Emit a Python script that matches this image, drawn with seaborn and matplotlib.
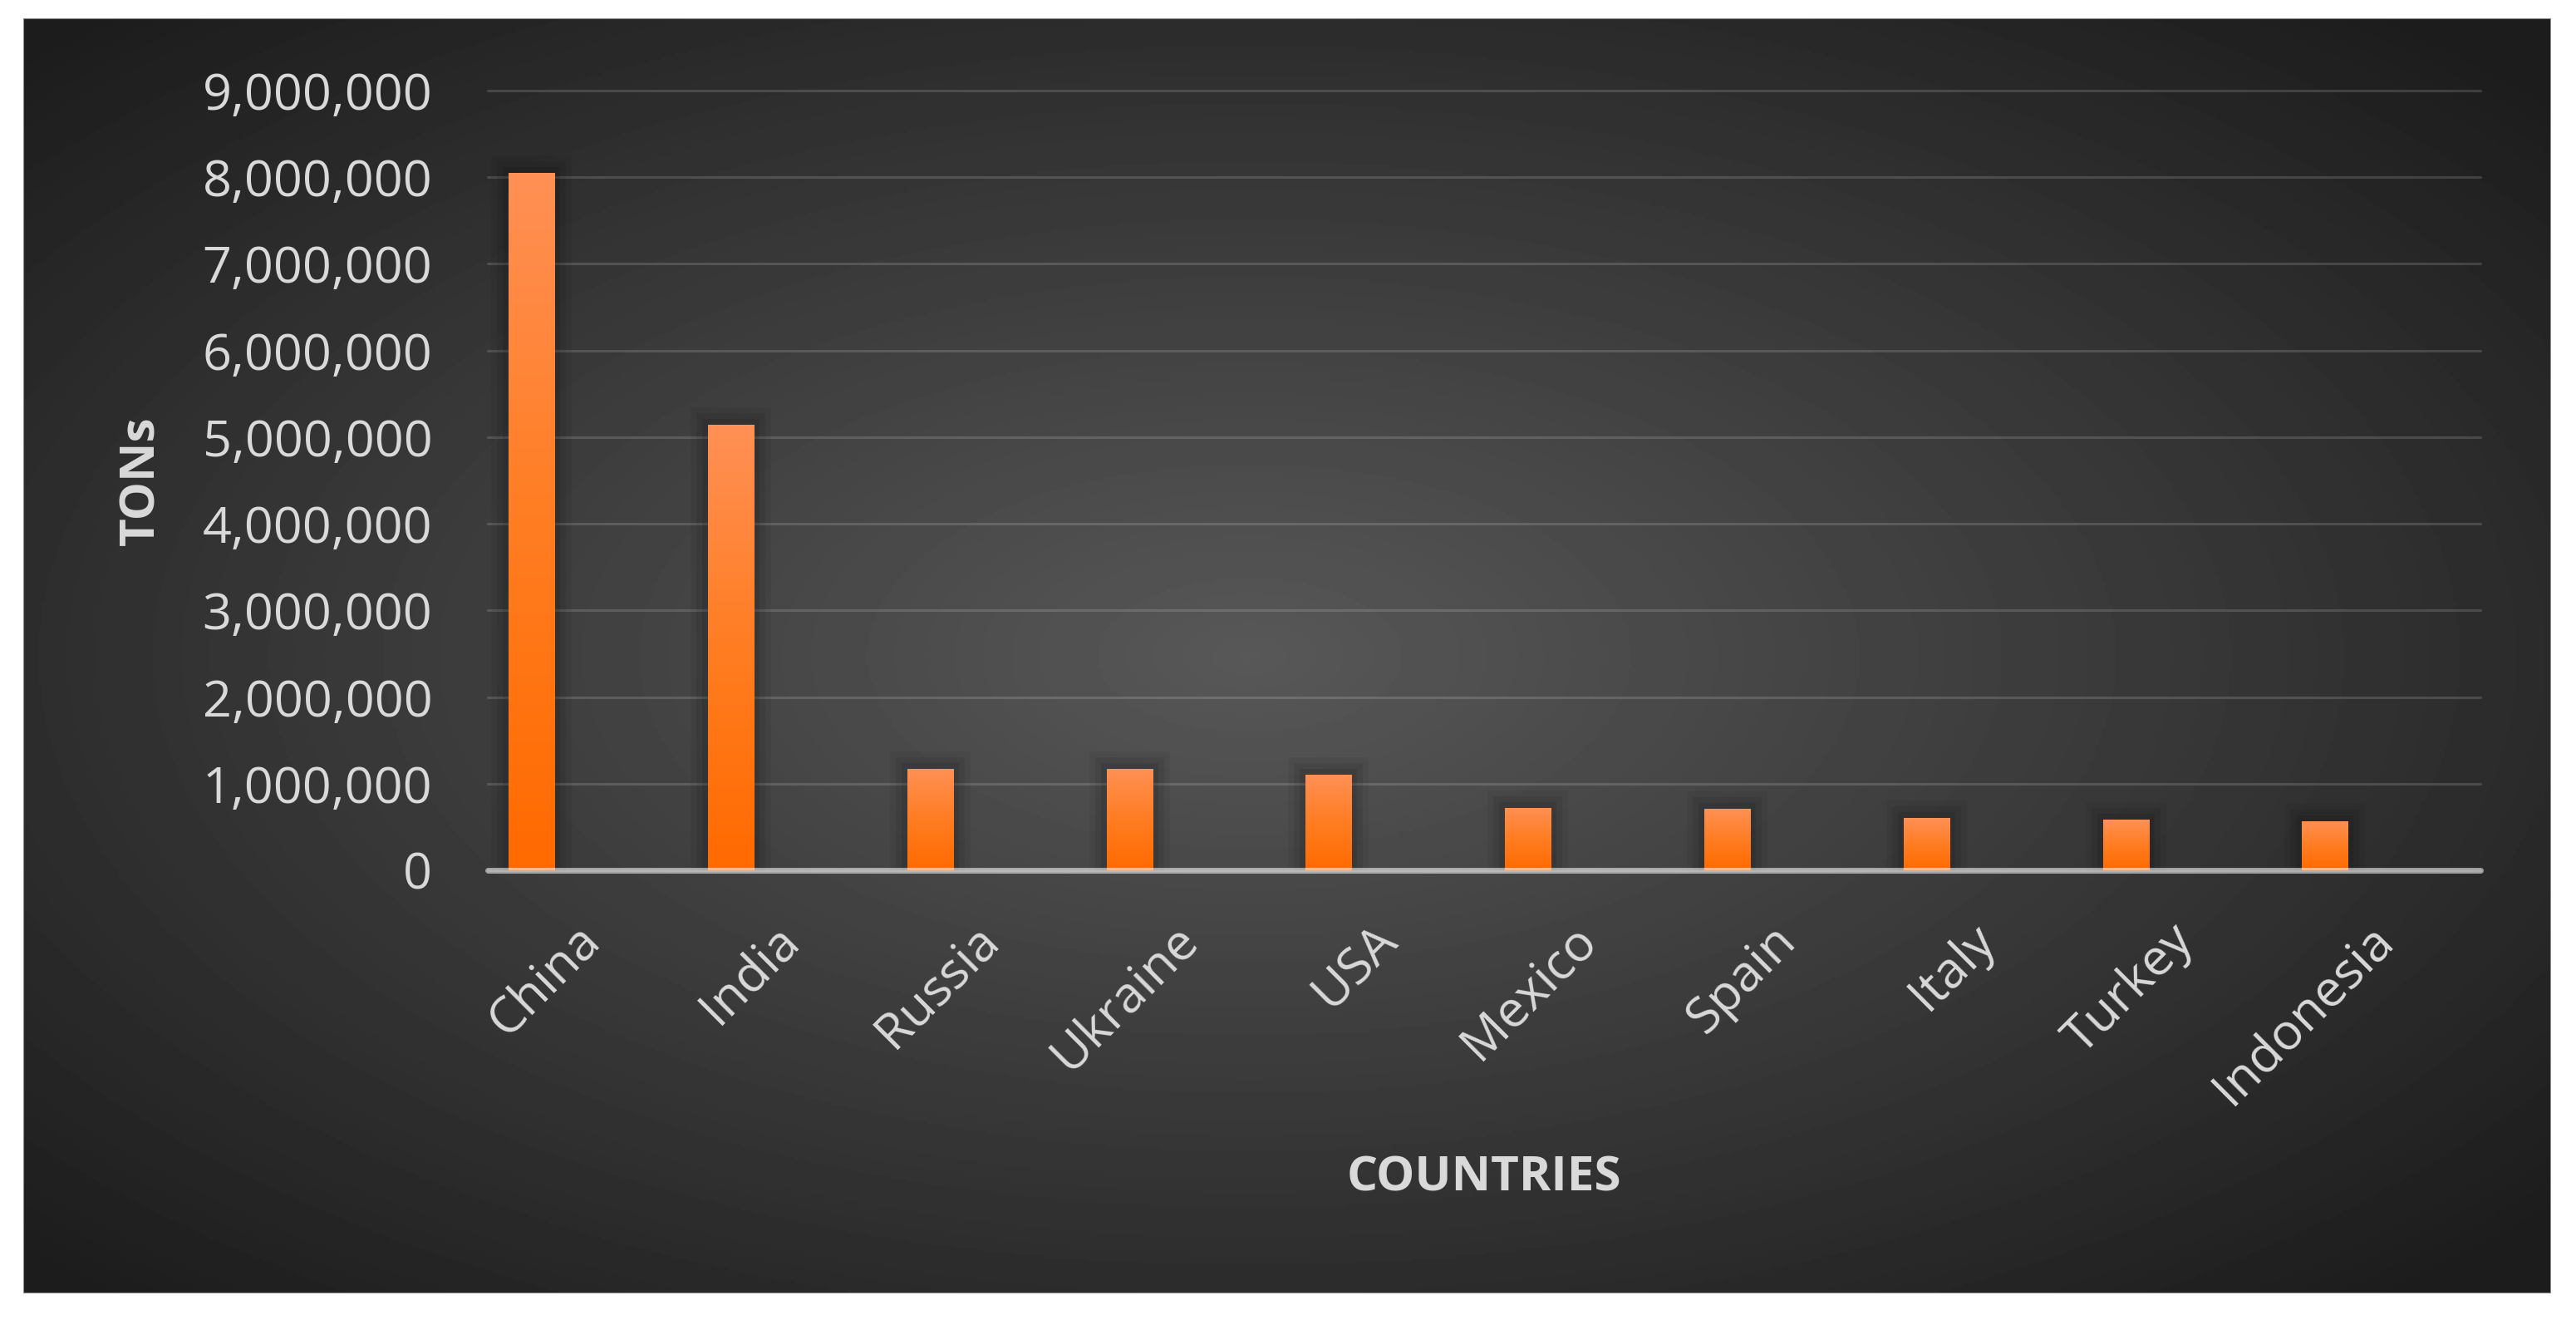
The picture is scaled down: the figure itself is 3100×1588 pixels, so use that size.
import numpy as np
import pandas as pd
import seaborn as sns
import matplotlib.pyplot as plt
import matplotlib.transforms as mtransforms
from matplotlib import patheffects as pe
from matplotlib.colors import LinearSegmentedColormap
from matplotlib.patches import Rectangle
from matplotlib.ticker import FuncFormatter, FixedLocator

# data
countries = ["China", "India", "Russia", "Ukraine", "USA",
             "Mexico", "Spain", "Italy", "Turkey", "Indonesia"]
tons = [8050000, 5140000, 1170000, 1170000, 1100000,
        720000, 710000, 600000, 585000, 570000]
y_ticks = [0, 1000000, 2000000, 3000000, 4000000,
           5000000, 6000000, 7000000, 8000000, 9000000]

sns.set_theme(style="dark")
plt.rcParams["font.family"] = ["Open Sans", "DejaVu Sans"]

TEXT = "#d9d9d9"
W, H = 3100, 1588
fig = plt.figure(figsize=(W / 100, H / 100), dpi=100)
fig.patch.set_facecolor("white")

# dark panel with radial gradient
bg = fig.add_axes([28 / W, 1 - 1556 / H, (3070 - 28) / W, (1556 - 22) / H])
yy, xx = np.mgrid[0:1:400j, 0:1:800j]
r = np.sqrt(((xx - 0.485) / 0.5) ** 2 + ((yy - 0.50) / 0.5) ** 2)
shade = np.clip(88 - 44 * r, 28, 90) / 255
bg.imshow(shade, cmap="gray", vmin=0, vmax=1, aspect="auto", extent=(0, 1, 0, 1))
bg.set_axis_off()
bg.add_patch(Rectangle((0, 0), 1, 1, transform=bg.transAxes, fill=False,
                       ec="#8c8c8c", lw=1.5))

# plot area
ax = fig.add_axes([587 / W, 1 - 1047 / H, (2985 - 587) / W, (1047 - 109) / H])
ax.set_facecolor("none")

# excel-style clustered layout: real series on the left, empty series on the right
df = pd.DataFrame({
    "country": countries * 2,
    "tons": tons + [0] * len(countries),
    "series": ["TONs"] * len(countries) + ["blank"] * len(countries),
})
sns.barplot(data=df, x="country", y="tons", hue="series", hue_order=["TONs", "blank"],
            palette=["#ff7a20", "#ff7a20"], width=1.12, gap=0.59, errorbar=None,
            legend=False, linewidth=0, ax=ax, zorder=3)

cmap = LinearSegmentedColormap.from_list("bar", ["#ff6a00", "#ff7d22", "#ff9055"])
grad = np.linspace(0, 1, 256).reshape(-1, 1)
shadow = [pe.Stroke(linewidth=30, foreground="black", alpha=0.05),
          pe.Stroke(linewidth=20, foreground="black", alpha=0.07),
          pe.Stroke(linewidth=10, foreground="black", alpha=0.09),
          pe.Normal()]
for bar in ax.containers[0]:
    x0, y0 = bar.get_x(), bar.get_y()
    w, h = bar.get_width(), bar.get_height()
    bar.set_path_effects(shadow)
    im = ax.imshow(grad, cmap=cmap, extent=(x0, x0 + w, y0, y0 + h),
                   aspect="auto", origin="lower", zorder=4)
    im.set_clip_path(bar)

ax.set_xlim(-0.5, len(countries) - 0.5)
ax.set_ylim(0, 9000000)
ax.yaxis.set_major_locator(FixedLocator(y_ticks))
ax.yaxis.set_major_formatter(FuncFormatter(lambda v, p: f"{v:,.0f}"))
ax.grid(axis="y", color="white", alpha=0.15, lw=2.2, clip_on=False)
ax.grid(axis="x", visible=False)
ax.set_axisbelow(True)
for s in ax.spines.values():
    s.set_visible(False)
ax.axhline(0, color="white", alpha=0.55, lw=5, zorder=5, clip_on=False)

ax.tick_params(axis="y", length=0, pad=48, labelsize=44, labelcolor=TEXT)
ax.tick_params(axis="x", length=0, pad=54, labelsize=44, labelcolor=TEXT)
shift = mtransforms.ScaledTranslation(6 / 100, 0, fig.dpi_scale_trans)
for lbl in ax.get_xticklabels():
    lbl.set_rotation(45)
    lbl.set_ha("right")
    lbl.set_va("center")
    lbl.set_rotation_mode("anchor")
    lbl.set_transform(lbl.get_transform() + shift)

ax.set_xlabel("COUNTRIES", fontsize=42, fontweight="bold", color=TEXT)
ax.xaxis.set_label_coords(0.5, -0.3955)
ax.xaxis.label.set_va("center")
ax.set_ylabel("TONs", fontsize=42, fontweight="bold", color=TEXT)
ax.yaxis.set_label_coords(-0.1739, 0.5)
ax.yaxis.label.set_va("center")

fig.savefig("out.png", dpi=100)
